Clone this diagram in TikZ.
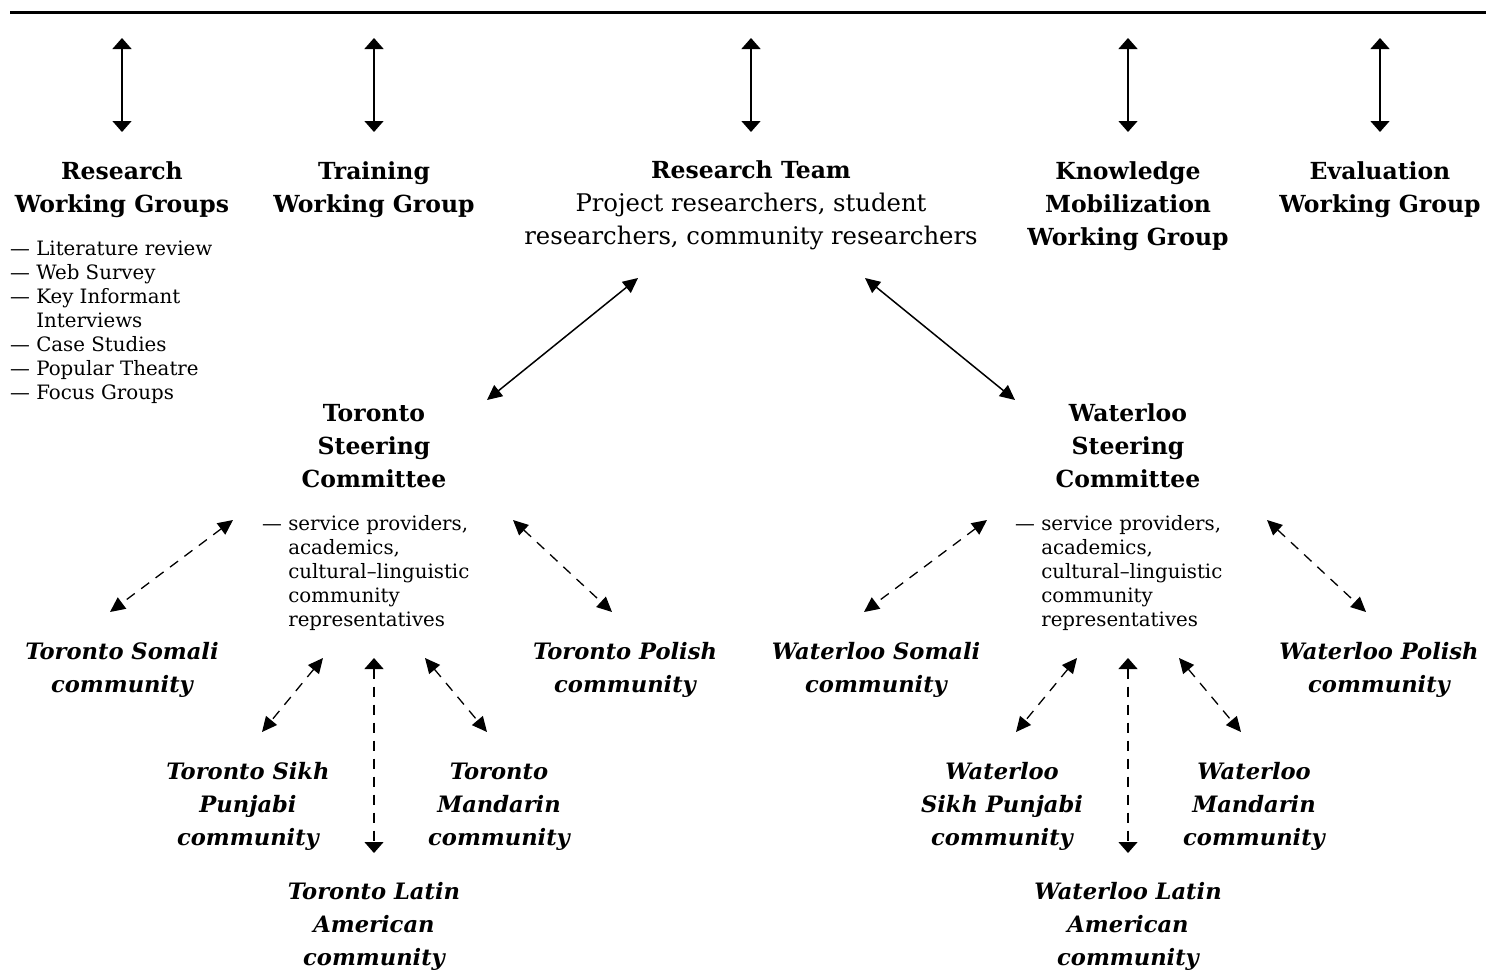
\documentclass[tikz,border=0pt]{standalone}
\usepackage{fontspec}
\setmainfont{DejaVu Serif}
\usetikzlibrary{arrows.meta}
\begin{document}
\begin{tikzpicture}[x=1pt,y=-1pt,
  head/.style={font=\fontsize{23.5}{33}\selectfont\bfseries, align=center, inner sep=0pt},
  body/.style={font=\fontsize{24.3}{33}\selectfont, align=center, inner sep=0pt},
  small/.style={font=\fontsize{19.8}{24}\selectfont, align=left, inner sep=0pt, anchor=west},
  comm/.style={font=\fontsize{22.6}{33}\selectfont\bfseries\itshape, align=center, inner sep=0pt},
  varr/.style={line width=1.5pt, {Triangle[width=19pt,length=11pt]}-{Triangle[width=19pt,length=11pt]}},
  darr/.style={line width=1.5pt, {Triangle[width=14pt,length=15pt]}-{Triangle[width=14pt,length=15pt]}},
  dash pat/.style={dash pattern=on 10pt off 8pt},
  vdarr/.style={varr, line width=1.3pt, dash pat},
  ddarr/.style={darr, line width=1.3pt, dash pat},
  rulestyle/.style={line width=3pt}
]
\useasboundingbox (0,0) rectangle (1486,972);

% top rule
\coordinate (ruleL) at (10,12);
\coordinate (ruleR) at (1486,12);
\draw[rulestyle] (ruleL) -- (ruleR);

% top headings
\node[head] (rwg) at (122,189.5) {Research\\Working Groups};
\node[head] (twg) at (374,189.5) {Training\\Working Group};
\node[body] (rt) at (751,205.5) {\textbf{\fontsize{23.5}{33}\selectfont Research Team}\\Project researchers, student\\researchers, community researchers};
\node[head] (kmwg) at (1128,206) {Knowledge\\Mobilization\\Working Group};
\node[head] (ewg) at (1380,189.5) {Evaluation\\Working Group};

% vertical arrows at top
\foreach \n/\x in {a1/122,a2/374,a3/751,a4/1128,a5/1380}{
  \coordinate (\n t) at (\x,38);
  \coordinate (\n b) at (\x,132);
  \draw[varr] (\n t) -- (\n b);
}

% research working groups list
\node[small] (rlist) at (10,322) {— Literature review\\— Web Survey\\— Key Informant\\\hphantom{— }Interviews\\— Case Studies\\— Popular Theatre\\— Focus Groups};

% steering committees
\node[head] (tsc) at (374,446) {Toronto\\Steering\\Committee};
\node[head] (wsc) at (1128,446) {Waterloo\\Steering\\Committee};

\coordinate (rtL) at (638,278);
\coordinate (tscU) at (487,400);
\coordinate (rtR) at (865,278);
\coordinate (wscU) at (1015,400);
\draw[darr] (rtL) -- (tscU);
\draw[darr] (rtR) -- (wscU);

\node[small] (tdesc) at (262,573) {— service providers,\\\hphantom{— }academics,\\\hphantom{— }cultural–linguistic\\\hphantom{— }community\\\hphantom{— }representatives};
\node[small] (wdesc) at (1015,573) {— service providers,\\\hphantom{— }academics,\\\hphantom{— }cultural–linguistic\\\hphantom{— }community\\\hphantom{— }representatives};

% communities
\node[comm] (tsom) at (122,670) {Toronto Somali\\community};
\node[comm] (tpol) at (625,670) {Toronto Polish\\community};
\node[comm] (tsikh) at (248,806.5) {Toronto Sikh\\Punjabi\\community};
\node[comm] (tman) at (499,806.5) {Toronto\\Mandarin\\community};
\node[comm] (tlat) at (374,926.5) {Toronto Latin\\American\\community};

\node[comm] (wsom) at (876,670) {Waterloo Somali\\community};
\node[comm] (wpol) at (1379,670) {Waterloo Polish\\community};
\node[comm] (wsikh) at (1002,806.5) {Waterloo\\Sikh Punjabi\\community};
\node[comm] (wman) at (1254,806.5) {Waterloo\\Mandarin\\community};
\node[comm] (wlat) at (1128,926.5) {Waterloo Latin\\American\\community};

% dashed connectors, Toronto and Waterloo (offset 754)
\foreach \p/\o in {t/0,w/754}{
  \coordinate (\p d1a) at (233+\o,520);
  \coordinate (\p d1b) at (110+\o,612);
  \coordinate (\p d2a) at (513+\o,520);
  \coordinate (\p d2b) at (612+\o,612);
  \coordinate (\p d3a) at (323+\o,658);
  \coordinate (\p d3b) at (262+\o,732);
  \coordinate (\p d4a) at (374+\o,658);
  \coordinate (\p d4b) at (374+\o,853);
  \coordinate (\p d5a) at (425+\o,658);
  \coordinate (\p d5b) at (487+\o,732);
  \draw[ddarr] (\p d1a) -- (\p d1b);
  \draw[ddarr] (\p d2a) -- (\p d2b);
  \draw[ddarr] (\p d3a) -- (\p d3b);
  \draw[vdarr] (\p d4a) -- (\p d4b);
  \draw[ddarr] (\p d5a) -- (\p d5b);
}
\end{tikzpicture}
\end{document}
